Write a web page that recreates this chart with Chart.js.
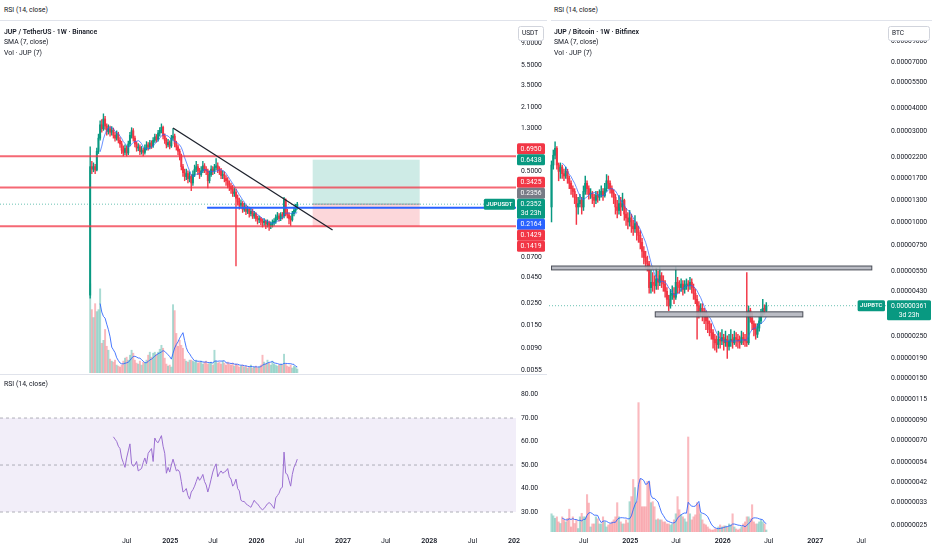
<!DOCTYPE html>
<html>
<head>
<meta charset="utf-8">
<title>JUP weekly</title>
<script src="https://cdn.jsdelivr.net/npm/chart.js@4.4.1/dist/chart.umd.min.js"></script>
<style>
  html, body { margin: 0; padding: 0; background: #fff; }
  body { position: relative; width: 932px; height: 550px; overflow: hidden; font-family: Roboto, "Noto Sans", sans-serif; }
  canvas { position: absolute; }
  .txt { position: absolute; z-index: 2; font-size: 6.9px; line-height: 10.7px; color: #131722; white-space: nowrap; }
  .txt b { font-weight: 600; }
  .sep { position: absolute; z-index: 2; height: 1px; background: #e0e3eb; }
</style>
</head>
<body>
<canvas id="usdt" width="546" height="352" style="left:0;top:21px"></canvas>
<canvas id="rsi" width="546" height="175" style="left:0;top:375px"></canvas>
<canvas id="btc" width="383" height="529" style="left:549px;top:21px"></canvas>

<div class="txt" style="left:4px;top:5px">RSI (14, close)</div>
<div class="txt" style="left:554px;top:5px">RSI (14, close)</div>
<div class="sep" style="left:0;top:20px;width:547px"></div>
<div class="sep" style="left:551px;top:20px;width:381px"></div>
<div class="txt" style="left:4px;top:26.5px"><b>JUP / TetherUS · 1W · Binance</b><br>SMA (7, close)<br>Vol · JUP (7)</div>
<div class="txt" style="left:554px;top:26.5px"><b>JUP / Bitcoin · 1W · Bitfinex</b><br>SMA (7, close)<br>Vol · JUP (7)</div>
<div class="sep" style="left:0;top:373.5px;width:547px"></div>
<div class="txt" style="left:4px;top:378.5px">RSI (14, close)</div>

<script>
/* ================= DATA: JUP / USDT (Binance, weekly) ================= */
const usdtStart = '2024-01-29';
const usdtFirstOpen = 0.03;
const usdtClose = [
  0.55, 0.52, 0.55, 0.51, 0.78, 1.05, 1.42, 1.30, 1.62, 1.38,
  1.22, 1.30, 1.20, 1.26, 1.12, 1.05, 1.15, 1.00, 0.92, 0.80,
  0.76, 0.83, 0.75, 0.92, 1.12, 1.24, 1.05, 0.92, 0.84, 0.86,
  0.77, 0.80, 0.76, 0.84, 0.90, 0.86, 0.94, 0.88, 1.00, 1.08,
  1.02, 1.18, 1.25, 1.34, 1.10, 1.00, 0.90, 0.95, 0.88, 1.05,
  1.10, 0.92, 0.86, 0.78, 0.70, 0.55, 0.48, 0.44, 0.47, 0.42,
  0.44, 0.38, 0.46, 0.52, 0.55, 0.50, 0.46, 0.50, 0.56, 0.52,
  0.50, 0.40, 0.46, 0.52, 0.50, 0.54, 0.56, 0.52, 0.50, 0.45,
  0.46, 0.42, 0.40, 0.37, 0.35, 0.33, 0.30, 0.31, 0.27, 0.25,
  0.23, 0.24, 0.21, 0.22, 0.20, 0.21, 0.19, 0.20, 0.18, 0.19,
  0.17, 0.165, 0.17, 0.16, 0.155, 0.16, 0.15, 0.155, 0.145, 0.15,
  0.155, 0.16, 0.175, 0.18, 0.17, 0.185, 0.18, 0.26, 0.19, 0.185,
  0.17, 0.165, 0.19, 0.205, 0.22, 0.2352
];
const usdtHigh = [
  0.86, 0.62, 0.60, 0.58, 0.84, 1.15, 1.55, 1.60, 1.82, 1.72,
  1.45, 1.42, 1.38, 1.36, 1.32, 1.20, 1.24, 1.20, 1.06, 0.98,
  0.88, 0.90, 0.88, 0.98, 1.20, 1.33, 1.30, 1.10, 0.97, 0.93,
  0.90, 0.87, 0.84, 0.90, 0.97, 0.95, 1.00, 0.99, 1.06, 1.15,
  1.14, 1.25, 1.33, 1.45, 1.38, 1.16, 1.05, 1.02, 0.99, 1.12,
  1.30, 1.15, 0.98, 0.90, 0.82, 0.73, 0.58, 0.52, 0.52, 0.50,
  0.49, 0.46, 0.50, 0.57, 0.62, 0.58, 0.53, 0.55, 0.62, 0.59,
  0.55, 0.52, 0.50, 0.56, 0.55, 0.58, 0.66, 0.60, 0.55, 0.53,
  0.50, 0.49, 0.45, 0.43, 0.40, 0.38, 0.36, 0.34, 0.33, 0.29,
  0.27, 0.26, 0.25, 0.24, 0.23, 0.225, 0.22, 0.215, 0.21, 0.20,
  0.195, 0.18, 0.18, 0.175, 0.168, 0.17, 0.165, 0.165, 0.16, 0.158,
  0.165, 0.17, 0.185, 0.195, 0.19, 0.195, 0.195, 0.275, 0.265, 0.21,
  0.195, 0.18, 0.20, 0.22, 0.235, 0.245
];
const usdtLow = [
  0.028, 0.47, 0.49, 0.47, 0.50, 0.74, 1.00, 1.20, 1.25, 1.28,
  1.12, 1.15, 1.10, 1.12, 1.05, 0.98, 1.00, 0.94, 0.85, 0.74,
  0.70, 0.72, 0.70, 0.72, 0.88, 1.05, 0.98, 0.86, 0.78, 0.79,
  0.72, 0.73, 0.70, 0.73, 0.80, 0.80, 0.82, 0.83, 0.85, 0.95,
  0.96, 0.98, 1.10, 1.18, 1.03, 0.93, 0.84, 0.86, 0.82, 0.85,
  1.00, 0.86, 0.80, 0.72, 0.64, 0.51, 0.44, 0.40, 0.41, 0.38,
  0.39, 0.32, 0.36, 0.44, 0.49, 0.46, 0.42, 0.44, 0.48, 0.48,
  0.46, 0.34, 0.38, 0.44, 0.46, 0.47, 0.51, 0.48, 0.46, 0.42,
  0.42, 0.39, 0.36, 0.34, 0.32, 0.30, 0.28, 0.28, 0.058, 0.23,
  0.21, 0.215, 0.195, 0.20, 0.185, 0.19, 0.175, 0.18, 0.17, 0.17,
  0.16, 0.15, 0.155, 0.148, 0.14, 0.145, 0.135, 0.14, 0.13, 0.135,
  0.14, 0.145, 0.152, 0.165, 0.16, 0.162, 0.168, 0.172, 0.18, 0.172,
  0.15, 0.145, 0.16, 0.18, 0.195, 0.21
];
// weekly volume, millions of JUP
const usdtVolume = [
  900, 640, 560, 700, 620, 640, 850, 300, 330, 440,
  270, 230, 140, 120, 110, 130, 80, 70, 60, 80,
  120, 150, 160, 130, 180, 230, 200, 130, 100, 90,
  120, 80, 110, 100, 130, 180, 210, 160, 200, 210,
  190, 210, 240, 280, 250, 150, 90, 70, 80, 60,
  690, 630, 400, 270, 330, 280, 250, 140, 120, 110,
  130, 130, 120, 110, 130, 100, 110, 120, 90, 110,
  120, 90, 100, 110, 80, 230, 120, 100, 110, 90,
  120, 100, 80, 110, 90, 80, 100, 70, 90, 80,
  60, 70, 80, 60, 70, 50, 60, 80, 50, 60,
  70, 50, 60, 80, 180, 110, 90, 130, 100, 80,
  120, 90, 80, 70, 80, 90, 80, 190, 90, 70,
  60, 80, 50, 70, 60, 40
];
// RSI (14, close), first value on the 15th week
const rsiStart = '2024-05-06';
const rsiValues = [
  62, 61, 60, 58, 57, 53, 51, 49, 53, 56,
  59, 50.5, 49.5, 50, 51.5, 47.5, 48, 48.5, 51, 53,
  50.5, 55, 56, 57, 51.5, 61.5, 60, 59.5, 61, 62.5,
  58, 55, 46.5, 49, 47, 50, 52.5, 50, 47.5, 48,
  47, 43, 38.5, 39, 40, 37, 35.5, 38.5, 39.5, 41,
  43, 45, 43.5, 44.5, 46, 43, 41.5, 38.5, 41, 44,
  47, 49, 50.5, 45, 46.5, 47.5, 46.5, 47, 47.5, 48.5,
  45, 44, 41, 42, 44, 40, 39, 35, 34.5, 34.5,
  33.5, 33, 32.5, 32, 33.5, 35, 34, 33.5, 32.5, 31.5,
  31, 31.5, 32.5, 33.5, 34, 33.5, 32.5, 31.5, 36, 37,
  38, 40, 40.5, 55.5, 46.5, 46, 43.5, 41, 46, 49,
  50.5, 52.5
];
// drawings on the USDT chart
const usdtRedLevels = [0.6950, 0.3425, 0.1429];
const usdtBlueLevel = 0.2164;
const usdtBlueFrom = '2025-06-06';
const usdtTrend = [['2025-01-13', 1.32], ['2026-11-18', 0.131]];
const usdtLong = { from: '2026-08-26', to: '2027-11-21', target: 0.6438, entry: 0.2356, stop: 0.1419 };

/* ================= DATA: JUP / BTC (Bitfinex, weekly, satoshi) ================= */
const btcStart = '2024-02-26';
const btcFirstOpen = 1200;
const btcClose = [
  2000, 2250, 2450, 2000, 1850, 1950, 1800, 1750, 1850, 1700,
  1600, 1500, 1450, 1350, 1200, 1250, 1300, 1200, 1450, 1600,
  1500, 1400, 1420, 1350, 1300, 1380, 1350, 1400, 1450, 1380,
  1500, 1650, 1600, 1500, 1420, 1350, 1200, 1150, 1250, 1200,
  1300, 1100, 1050, 1000, 1050, 950, 920, 980, 880, 850,
  780, 700, 650, 620, 600, 450, 480, 470, 460, 500,
  480, 520, 490, 470, 430, 390, 360, 410, 420, 400,
  480, 460, 450, 470, 440, 460, 470, 460, 480, 450,
  420, 390, 360, 340, 350, 330, 320, 300, 290, 270,
  260, 240, 230, 225, 240, 235, 245, 230, 240, 220,
  235, 240, 230, 245, 240, 235, 230, 245, 240, 235,
  230, 340, 310, 290, 270, 255, 275, 300, 330, 350,
  340, 361
];
const btcHigh = [
  2100, 2400, 2650, 2500, 2050, 2050, 2000, 1900, 1950, 1900,
  1750, 1650, 1550, 1500, 1400, 1350, 1400, 1350, 1550, 1750,
  1650, 1550, 1500, 1450, 1400, 1450, 1450, 1480, 1550, 1500,
  1600, 1780, 1750, 1650, 1550, 1480, 1400, 1300, 1380, 1350,
  1420, 1320, 1180, 1120, 1150, 1100, 1020, 1080, 1000, 950,
  900, 820, 740, 700, 660, 620, 560, 540, 520, 570,
  550, 580, 540, 520, 490, 450, 410, 440, 460, 450,
  580, 510, 490, 500, 490, 490, 500, 490, 510, 500,
  470, 440, 410, 380, 370, 370, 350, 340, 320, 300,
  290, 270, 255, 250, 265, 260, 270, 255, 265, 250,
  255, 270, 255, 265, 260, 255, 250, 265, 260, 255,
  540, 360, 350, 330, 300, 290, 290, 315, 345, 390,
  365, 375
];
const btcLow = [
  1000, 1900, 2150, 1900, 1650, 1700, 1700, 1650, 1700, 1600,
  1500, 1400, 1350, 1250, 970, 1100, 1200, 1100, 1150, 1400,
  1400, 1320, 1330, 1250, 1200, 1250, 1270, 1300, 1350, 1300,
  1350, 1450, 1500, 1420, 1350, 1250, 1100, 1050, 1100, 1080,
  1150, 1020, 960, 920, 950, 880, 850, 880, 800, 780,
  720, 650, 600, 570, 550, 420, 420, 430, 420, 440,
  440, 460, 450, 430, 400, 360, 340, 350, 390, 370,
  390, 420, 420, 430, 410, 420, 440, 430, 440, 420,
  390, 370, 240, 310, 320, 300, 290, 270, 260, 250,
  240, 215, 210, 205, 215, 215, 225, 210, 220, 190,
  210, 220, 215, 225, 220, 215, 215, 225, 225, 220,
  220, 225, 295, 270, 250, 240, 245, 265, 290, 320,
  325, 335
];
const btcVolume = [
  180, 160, 135, 150, 100, 84, 150, 120, 100, 135,
  226, 50, 150, 84, 120, 34, 150, 185, 150, 150,
  370, 286, 50, 80, 80, 150, 130, 80, 80, 150,
  100, 50, 70, 80, 100, 120, 150, 290, 150, 100,
  80, 80, 120, 90, 300, 350, 520, 440, 300, 1280,
  520, 250, 250, 250, 500, 490, 290, 300, 250, 120,
  130, 120, 120, 100, 100, 80, 80, 70, 80, 120,
  180, 350, 220, 170, 150, 130, 100, 940, 180, 120,
  150, 170, 290, 270, 180, 120, 80, 70, 50, 30,
  20, 20, 30, 30, 50, 70, 50, 60, 60, 50,
  80, 70, 180, 50, 30, 20, 30, 50, 80, 100,
  150, 150, 130, 270, 100, 80, 80, 100, 120, 100,
  80, 20
];
const btcZones = [
  { from: '2024-02-26', to: '2027-08-12', lo: 558, hi: 585 },
  { from: '2025-04-10', to: '2026-11-13', lo: 315, hi: 335 }
];

/* ================= AXES ================= */
const usdtTicks = [9, 5.5, 3.5, 2.1, 1.3, 0.5, 0.07, 0.045, 0.025, 0.015, 0.009, 0.0055];
const btcTicks = [9000, 7000, 5500, 4000, 3000, 2200, 1700, 1300, 1000, 750, 550, 430, 250, 190, 150, 115, 90, 70, 54, 42, 33, 25];
const rsiTicks = [30, 40, 50, 60, 70, 80];
const usdtTimeTicks = ['2024-07-01', '2025-01-01', '2025-07-01', '2026-01-01', '2026-07-01', '2027-01-01', '2027-07-01', '2028-01-01', '2028-07-01', '2029-01-01'];
const btcTimeTicks = ['2024-07-01', '2025-01-01', '2025-07-01', '2026-01-01', '2026-07-01', '2027-01-01', '2027-07-01'];
const usdtRange = ['2023-01-13', '2029-01-01'];
const btcRange = ['2024-02-16', '2027-10-07'];
const countdown = '3d 23h';

/* ================= HELPERS ================= */
const FONT = 'Roboto, "Noto Sans", sans-serif';
const UP = '#089981';
const DOWN = '#F23645';
const BLUE = '#2962FF';
const GREY = '#787B86';
Chart.defaults.font.family = FONT;

const day = d => Date.parse(d + 'T00:00:00Z');
const weekly = (start, n) => Array.from({ length: n }, (_, i) => day(start) + i * 7 * 864e5);
const opensFrom = (first, close) => close.map((c, i) => (i === 0 ? first : close[i - 1]));
const sma = (arr, n) => arr.map((_, i) => (i < n - 1 ? null : arr.slice(i - n + 1, i + 1).reduce((s, v) => s + v, 0) / n));

function candleDatasets(dates, open, close, high, low, vol, w) {
  const col = close.map((c, i) => (c >= open[i] ? UP : DOWN));
  const volCol = close.map((c, i) => (c >= open[i] ? 'rgba(8,153,129,0.35)' : 'rgba(242,54,69,0.35)'));
  const ma = sma(close, 7);
  const vma = sma(vol, 7);
  const pts = arr => dates.map((x, i) => ({ x, y: arr[i] })).filter(p => p.y !== null);
  return [
    { type: 'bar', data: dates.map((x, i) => ({ x, y: [low[i], high[i]] })), backgroundColor: col,
      barThickness: w.wick, grouped: false, order: 3, yAxisID: 'y' },
    { type: 'bar', data: dates.map((x, i) => ({ x, y: [open[i], close[i]] })), backgroundColor: col,
      barThickness: w.body, grouped: false, minBarLength: 1, order: 2, yAxisID: 'y' },
    { type: 'line', data: pts(ma), borderColor: 'rgba(41,98,255,0.7)', borderWidth: 1, pointRadius: 0, order: 1, yAxisID: 'y' },
    { type: 'bar', data: dates.map((x, i) => ({ x, y: vol[i] })), backgroundColor: volCol,
      barThickness: w.body, grouped: false, order: 5, yAxisID: 'v' },
    { type: 'line', data: pts(vma), borderColor: 'rgba(41,98,255,0.85)', borderWidth: 1, pointRadius: 0, order: 4, yAxisID: 'v' }
  ];
}

function timeAxis(range, tickDates, show) {
  return {
    type: 'linear', offset: false, display: show,
    min: day(range[0]), max: day(range[1]),
    grid: { display: false, drawTicks: false },
    border: { display: false },
    afterBuildTicks: s => { s.ticks = tickDates.map(d => ({ value: day(d) })); },
    afterFit: s => {
      s.height = show ? 18 : 0;
      s.paddingLeft = 0;
      s.paddingRight = 0;
    },
    ticks: {
      autoSkip: false, maxRotation: 0, padding: 5, color: '#131722',
      font: c => ({ family: FONT, size: 7, weight: c.tick && new Date(c.tick.value).getUTCMonth() === 0 ? '600' : '400' }),
      callback: v => { const d = new Date(v); return d.getUTCMonth() === 0 ? String(d.getUTCFullYear()) : 'Jul'; }
    }
  };
}

function priceAxis(type, min, max, ticks, width, fmt) {
  return {
    type, position: 'right', min, max,
    grid: { display: false, drawTicks: false },
    border: { display: false },
    afterBuildTicks: s => { s.ticks = ticks.map(v => ({ value: v })); },
    afterFit: s => { s.width = width; s.paddingTop = 0; s.paddingBottom = 0; },
    ticks: { padding: 5, color: '#131722', font: { family: FONT, size: 6.8 }, callback: fmt }
  };
}

function clipArea(ctx, a) {
  ctx.beginPath();
  ctx.rect(a.left, a.top, a.right - a.left, a.bottom - a.top);
  ctx.clip();
}
function hline(ctx, x1, x2, y, color, width, dash) {
  ctx.save();
  ctx.strokeStyle = color;
  ctx.lineWidth = width;
  ctx.setLineDash(dash || []);
  ctx.beginPath();
  ctx.moveTo(x1, y);
  ctx.lineTo(x2, y);
  ctx.stroke();
  ctx.restore();
}
function box(ctx, x, y, w, h, r) {
  ctx.beginPath();
  if (ctx.roundRect) ctx.roundRect(x, y, w, h, r); else ctx.rect(x, y, w, h);
}

// price tags on the axis: last price stays put, the others are pushed away from it
function drawTags(chart, tags, fmt, symbol) {
  const { ctx, scales: { y } } = chart;
  const items = tags
    .map(g => ({ ...g, h: g.sub ? 20 : 11, top: y.getPixelForValue(g.v) - 5.5 }))
    .sort((a, b) => a.top - b.top);
  const k = Math.max(0, items.findIndex(it => it.sub));
  for (let i = k - 1; i >= 0; i--) items[i].top = Math.min(items[i].top, items[i + 1].top - items[i].h);
  for (let i = k + 1; i < items.length; i++) items[i].top = Math.max(items[i].top, items[i - 1].top + items[i - 1].h);

  ctx.save();
  ctx.textAlign = 'center';
  ctx.textBaseline = 'middle';
  const cx = y.left + y.width / 2;
  items.forEach(it => {
    ctx.fillStyle = it.color;
    box(ctx, y.left + 1, it.top, y.width - 2, it.h, 1.5);
    ctx.fill();
    ctx.fillStyle = '#fff';
    ctx.font = `6.8px ${FONT}`;
    ctx.fillText(fmt(it.v), cx, it.top + 5.8);
    if (it.sub) ctx.fillText(it.sub, cx, it.top + 15);
  });
  const a = items[k];
  ctx.font = `600 6px ${FONT}`;
  const w = ctx.measureText(symbol).width + 5;
  ctx.fillStyle = a.color;
  box(ctx, y.left - w - 1, a.top, w, 11, 1.5);
  ctx.fill();
  ctx.fillStyle = '#fff';
  ctx.fillText(symbol, y.left - 1 - w / 2, a.top + 5.8);
  ctx.restore();
}

function drawUnit(chart, text) {
  const { ctx, scales: { y } } = chart;
  ctx.save();
  ctx.fillStyle = '#fff';
  ctx.strokeStyle = '#d1d4dc';
  ctx.lineWidth = 1;
  box(ctx, y.left + 2.5, 5.5, y.width - 5, 14, 2);
  ctx.fill();
  ctx.stroke();
  ctx.fillStyle = '#131722';
  ctx.font = `6.5px ${FONT}`;
  ctx.textBaseline = 'middle';
  ctx.textAlign = 'left';
  ctx.fillText(text, y.left + 6, 12.5);
  ctx.restore();
}

/* ================= USDT CHART ================= */
const usdtDates = weekly(usdtStart, usdtClose.length);
const usdtOpen = opensFrom(usdtFirstOpen, usdtClose);
const usdtLast = usdtClose[usdtClose.length - 1];

const usdtMarks = {
  id: 'usdtMarks',
  beforeDatasetsDraw(chart) {
    const { ctx, chartArea: a, scales: { x, y } } = chart;
    ctx.save();
    clipArea(ctx, a);
    const x1 = x.getPixelForValue(day(usdtLong.from));
    const x2 = x.getPixelForValue(day(usdtLong.to));
    const yT = y.getPixelForValue(usdtLong.target);
    const yE = y.getPixelForValue(usdtLong.entry);
    const yS = y.getPixelForValue(usdtLong.stop);
    ctx.fillStyle = 'rgba(8,153,129,0.2)';
    ctx.fillRect(x1, yT, x2 - x1, yE - yT);
    ctx.fillStyle = 'rgba(242,54,69,0.2)';
    ctx.fillRect(x1, yE, x2 - x1, yS - yE);
    hline(ctx, x1, x2, yE, 'rgba(120,123,134,0.9)', 1, [2, 1]);
    hline(ctx, a.left, a.right, y.getPixelForValue(usdtLast), 'rgba(8,153,129,0.6)', 1, [1, 2]);
    ctx.restore();
  },
  afterDatasetsDraw(chart) {
    const { ctx, chartArea: a, scales: { x, y } } = chart;
    ctx.save();
    clipArea(ctx, a);
    usdtRedLevels.forEach(v => hline(ctx, a.left, a.right, y.getPixelForValue(v), 'rgba(242,54,69,0.75)', 2));
    hline(ctx, x.getPixelForValue(day(usdtBlueFrom)), a.right, y.getPixelForValue(usdtBlueLevel), BLUE, 2);
    ctx.strokeStyle = '#1e222d';
    ctx.lineWidth = 1.3;
    ctx.beginPath();
    ctx.moveTo(x.getPixelForValue(day(usdtTrend[0][0])), y.getPixelForValue(usdtTrend[0][1]));
    ctx.lineTo(x.getPixelForValue(day(usdtTrend[1][0])), y.getPixelForValue(usdtTrend[1][1]));
    ctx.stroke();
    ctx.restore();
  },
  afterDraw(chart) {
    drawUnit(chart, 'USDT');
    drawTags(chart, [
      { v: usdtRedLevels[0], color: DOWN },
      { v: usdtLong.target, color: UP },
      { v: usdtRedLevels[1], color: DOWN },
      { v: usdtLong.entry, color: GREY },
      { v: usdtLast, color: UP, sub: countdown },
      { v: usdtBlueLevel, color: BLUE },
      { v: usdtRedLevels[2], color: DOWN },
      { v: usdtLong.stop, color: DOWN }
    ], v => v.toFixed(4), 'JUPUSDT');
  }
};

new Chart(document.getElementById('usdt'), {
  type: 'bar',
  data: { datasets: candleDatasets(usdtDates, usdtOpen, usdtClose, usdtHigh, usdtLow, usdtVolume, { wick: 0.7, body: 1.3 }) },
  options: {
    responsive: false, animation: false, events: [],
    layout: { padding: 0 },
    plugins: { legend: { display: false }, tooltip: { enabled: false } },
    scales: {
      x: timeAxis(usdtRange, usdtTimeTicks, false),
      y: priceAxis('logarithmic', 0.00514, 14.9, usdtTicks, 30, v => v.toFixed(4)),
      v: { type: 'linear', display: false, min: 0, max: Math.max(...usdtVolume) * 3.95 }
    }
  },
  plugins: [usdtMarks]
});

/* ================= RSI CHART ================= */
const rsiDates = weekly(rsiStart, rsiValues.length);

const rsiBand = {
  id: 'rsiBand',
  beforeDatasetsDraw(chart) {
    const { ctx, chartArea: a, scales: { y } } = chart;
    const y70 = y.getPixelForValue(70), y30 = y.getPixelForValue(30);
    ctx.save();
    ctx.fillStyle = 'rgba(126,87,194,0.1)';
    ctx.fillRect(a.left, y70, a.right - a.left, y30 - y70);
    [70, 50, 30].forEach(v => hline(ctx, a.left, a.right, y.getPixelForValue(v), 'rgba(120,123,134,0.7)', 0.8, [3, 3]));
    ctx.restore();
  },
  afterDraw(chart) {
    // the last date label is cut by the price scale
    const { ctx, chartArea: a, scales: { y } } = chart;
    ctx.save();
    ctx.fillStyle = '#fff';
    ctx.fillRect(y.left + 4, a.bottom, y.width, chart.height - a.bottom);
    ctx.restore();
  }
};

new Chart(document.getElementById('rsi'), {
  type: 'line',
  data: {
    datasets: [{
      data: rsiDates.map((x, i) => ({ x, y: rsiValues[i] })),
      borderColor: '#9b6fd1', borderWidth: 1, pointRadius: 0, tension: 0
    }]
  },
  options: {
    responsive: false, animation: false, events: [],
    layout: { padding: 0 },
    plugins: { legend: { display: false }, tooltip: { enabled: false } },
    scales: {
      x: timeAxis(usdtRange, usdtTimeTicks, true),
      y: priceAxis('linear', 21.5, 88.3, rsiTicks, 30, v => v.toFixed(2))
    }
  },
  plugins: [rsiBand]
});

/* ================= BTC CHART ================= */
const btcDates = weekly(btcStart, btcClose.length);
const btcOpen = opensFrom(btcFirstOpen, btcClose);
const btcLast = btcClose[btcClose.length - 1];
const sats = v => (v / 1e8).toFixed(8);

const btcMarks = {
  id: 'btcMarks',
  beforeDatasetsDraw(chart) {
    const { ctx, chartArea: a, scales: { y } } = chart;
    hline(ctx, a.left, a.right, y.getPixelForValue(btcLast), 'rgba(8,153,129,0.6)', 1, [1, 2]);
  },
  afterDatasetsDraw(chart) {
    const { ctx, chartArea: a, scales: { x, y } } = chart;
    ctx.save();
    clipArea(ctx, a);
    btcZones.forEach(z => {
      const x1 = x.getPixelForValue(day(z.from)), x2 = x.getPixelForValue(day(z.to));
      const y1 = y.getPixelForValue(z.hi), y2 = y.getPixelForValue(z.lo);
      ctx.fillStyle = 'rgba(178,181,190,0.9)';
      ctx.strokeStyle = '#4a4d57';
      ctx.lineWidth = 1;
      ctx.fillRect(x1, y1, x2 - x1, y2 - y1);
      ctx.strokeRect(x1, y1, x2 - x1, y2 - y1);
    });
    ctx.restore();
  },
  afterDraw(chart) {
    drawUnit(chart, 'BTC');
    drawTags(chart, [{ v: btcLast, color: UP, sub: countdown }], sats, 'JUPBTC');
  }
};

new Chart(document.getElementById('btc'), {
  type: 'bar',
  data: { datasets: candleDatasets(btcDates, btcOpen, btcClose, btcHigh, btcLow, btcVolume, { wick: 0.8, body: 1.45 }) },
  options: {
    responsive: false, animation: false, events: [],
    layout: { padding: 0 },
    plugins: { legend: { display: false }, tooltip: { enabled: false } },
    scales: {
      x: timeAxis(btcRange, btcTimeTicks, true),
      y: priceAxis('logarithmic', 23, 11530, btcTicks, 46, sats),
      v: { type: 'linear', display: false, min: 0, max: Math.max(...btcVolume) * 3.95 }
    }
  },
  plugins: [btcMarks]
});
</script>
</body>
</html>
